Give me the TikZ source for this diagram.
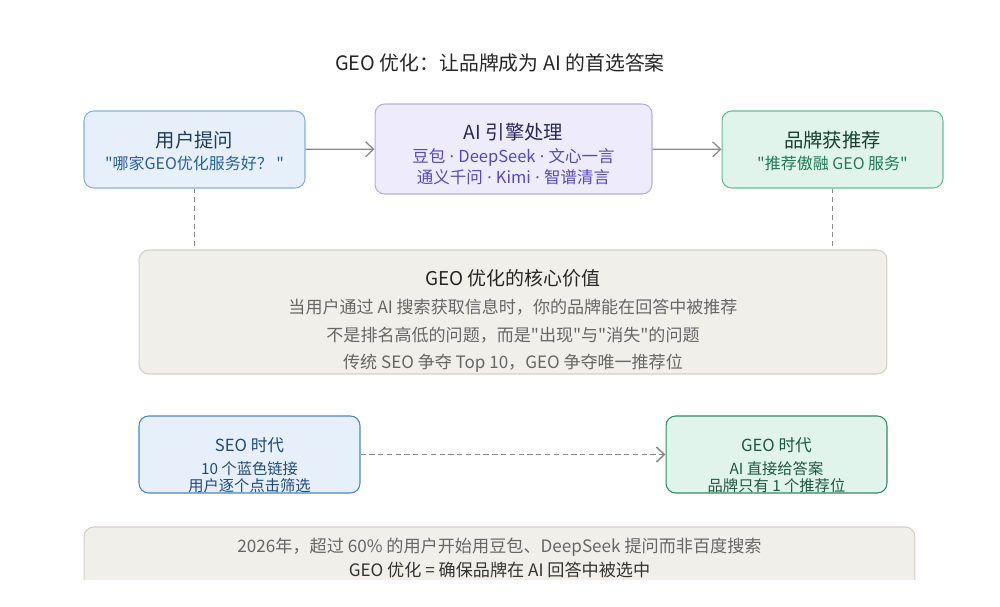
\documentclass[tikz,border=0pt]{standalone}
\usepackage{fontspec}
\setmainfont{Noto Sans CJK SC}[Ligatures=TeXOff]
\newfontfamily\latinfont{Noto Sans}
\usepackage{tikz}
\usetikzlibrary{arrows.meta,positioning}
\definecolor{linegray}{RGB}{138,138,138}
\definecolor{askfill}{RGB}{231,240,250}
\definecolor{askdraw}{RGB}{128,176,226}
\definecolor{askdark}{RGB}{30,58,95}
\definecolor{askblue}{RGB}{38,96,160}
\definecolor{aifill}{RGB}{238,236,252}
\definecolor{aidraw}{RGB}{180,171,235}
\definecolor{aidark}{RGB}{42,37,96}
\definecolor{aipurple}{RGB}{85,72,200}
\definecolor{brandfill}{RGB}{225,244,236}
\definecolor{branddraw}{RGB}{96,190,152}
\definecolor{branddark}{RGB}{23,63,48}
\definecolor{brandgreen}{RGB}{31,122,85}
\definecolor{corefill}{RGB}{241,239,233}
\definecolor{coredraw}{RGB}{211,207,198}
\definecolor{coretext}{RGB}{102,102,102}
\definecolor{seodraw}{RGB}{74,134,200}
\definecolor{seotext}{RGB}{31,74,128}
\definecolor{geodraw}{RGB}{46,139,98}
\definecolor{geotext}{RGB}{27,90,66}
\newcommand{\sep}{{\latinfont\ ·\ }}

\begin{document}
\begin{tikzpicture}[
  x=0.02cm, y=-0.02cm,
  block/.style={rectangle,rounded corners=5.5pt,draw,line width=0.6pt,
                align=center,inner sep=0pt},
  small/.style={minimum width=4.42cm,minimum height=1.54cm},
  arrow/.style={-{Straight Barb[length=1.6mm,width=3mm]},draw=linegray,line width=0.7pt},
  link/.style={draw=linegray,line width=0.5pt,dash pattern=on 2.8pt off 2.2pt}
]
\useasboundingbox (0,0) rectangle (1000,607);

\node[font=\fontsize{11.3}{13}\selectfont,text=black!85] (title) at (500,63)
  {GEO 优化：让品牌成为 AI 的首选答案};

% top row
\node[block,small,fill=askfill,draw=askdraw,text=askblue,
      font=\fontsize{9.1}{12.5}\selectfont] (ask) at (194.5,149.5)
  {\rule{0pt}{11pt}{\fontsize{11}{12.5}\selectfont\color{askdark}用户提问}\\"哪家GEO优化服务好？ "};
\node[block,fill=aifill,draw=aidraw,text=aipurple,minimum width=5.54cm,minimum height=1.8cm,
      font=\fontsize{9.4}{12}\selectfont] (ai) at (513.5,149)
  {\rule{0pt}{15pt}{\fontsize{11}{12.5}\selectfont\color{aidark}AI 引擎处理}\\[1.5pt]豆包\sep DeepSeek\sep 文心一言\\通义千问\sep Kimi\sep 智谱清言};
\node[block,small,fill=brandfill,draw=branddraw,text=brandgreen,
      font=\fontsize{9.1}{12.5}\selectfont] (brand) at (832.5,149.5)
  {\rule{0pt}{11pt}{\fontsize{11}{12.5}\selectfont\color{branddark}品牌获推荐}\\"推荐傲融 GEO 服务"};

\draw[arrow] (ask) -- (ai);
\draw[arrow] (ai) -- (brand);

% core value
\node[block,fill=corefill,draw=coredraw,text=coretext,minimum width=14.96cm,minimum height=2.48cm,
      font=\fontsize{9.7}{15.8}\selectfont] (core) at (513,312)
  {\rule{0pt}{19.5pt}{\fontsize{10.8}{13}\selectfont\color{black!85}GEO 优化的核心价值}\\
   当用户通过 AI 搜索获取信息时，你的品牌能在回答中被推荐\\
   不是排名高低的问题，而是"出现"与"消失"的问题\\
   传统 SEO 争夺 Top 10，GEO 争夺唯一推荐位};

\draw[link] (ask.south) -- (core.north -| ask.south);
\draw[link] (brand.south) -- (core.north -| brand.south);

% two eras
\node[block,small,fill=askfill,draw=seodraw,text=seotext,
      font=\fontsize{8.7}{9.8}\selectfont] (seo) at (249.5,454.5)
  {\rule{0pt}{20pt}{\fontsize{9.5}{11}\selectfont SEO 时代}\\[3.5pt]10 个蓝色链接\\用户逐个点击筛选};
\node[block,small,fill=brandfill,draw=geodraw,text=geotext,
      font=\fontsize{8.7}{9.8}\selectfont] (geo) at (776.5,454.5)
  {\rule{0pt}{20pt}{\fontsize{9.5}{11}\selectfont GEO 时代}\\[3.5pt]AI 直接给答案\\品牌只有 1 个推荐位};

\draw[arrow,line width=0.9pt,dash pattern=on 3pt off 2pt] (seo) -- (geo);

% summary, cut at the bottom
\begin{scope}
  \clip (0,0) rectangle (1000,579);
  \node[block,fill=corefill,draw=coredraw,text=coretext,minimum width=16.62cm,minimum height=1.6cm,
        font=\fontsize{9.75}{13.6}\selectfont] (sum) at (499.5,567)
    {2026年，超过 60\% 的用户开始用豆包、DeepSeek 提问而非百度搜索\\
     {\color{black!80}GEO 优化 = 确保品牌在 AI 回答中被选中}\\[-3pt]\mbox{}};
\end{scope}
\end{tikzpicture}
\end{document}
